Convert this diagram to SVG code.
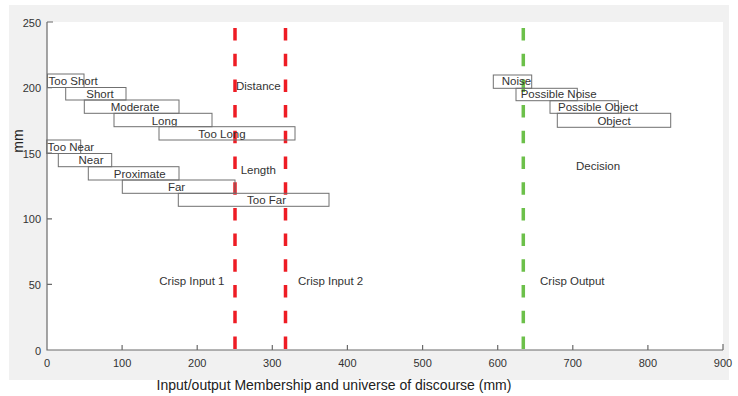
<svg xmlns="http://www.w3.org/2000/svg" width="738" height="396" viewBox="0 0 738 396">
<style>
text{font-family:"Liberation Sans",Arial,sans-serif;fill:#333}
.lb{font-size:11.5px}
.tk{font-size:11px;fill:#444}
.bx{fill:none;stroke:#707070;stroke-width:1}
.ax{stroke:#6a6a6a;stroke-width:1.2;fill:none}
.red{stroke:#ee1c24;stroke-width:3.5;stroke-dasharray:12.5 13.2}
.grn{stroke:#6cc04a;stroke-width:3.5;stroke-dasharray:12.5 13.2}
.m{text-anchor:middle}
.e{text-anchor:end}
</style>
<rect x="0" y="0" width="738" height="396" fill="#ffffff"/>
<rect x="9" y="5" width="720" height="375" fill="#f1f1f1"/>
<rect x="47" y="22" width="676" height="328" fill="#ffffff"/>
<g id="axes">
<path class="ax" d="M47,22 V350 H723"/>
<path class="ax" d="M122.1,350v-5 M197.2,350v-5 M272.3,350v-5 M347.4,350v-5 M422.6,350v-5 M497.7,350v-5 M572.8,350v-5 M647.9,350v-5 M723,350v-6 M47,284.4h5 M47,218.8h5 M47,153.2h5 M47,87.6h5 M47,22h6"/>
<g class="tk">
<text class="m" x="47" y="367">0</text>
<text class="m" x="122.1" y="367">100</text>
<text class="m" x="197.2" y="367">200</text>
<text class="m" x="272.3" y="367">300</text>
<text class="m" x="347.4" y="367">400</text>
<text class="m" x="422.6" y="367">500</text>
<text class="m" x="497.7" y="367">600</text>
<text class="m" x="572.8" y="367">700</text>
<text class="m" x="647.9" y="367">800</text>
<text class="m" x="723" y="367">900</text>
<text class="e" x="41" y="355">0</text>
<text class="e" x="41" y="289">50</text>
<text class="e" x="41" y="223">100</text>
<text class="e" x="41" y="157.5">150</text>
<text class="e" x="41" y="92">200</text>
<text class="e" x="41" y="26.5">250</text>
</g>
<text x="334" y="390" class="m" style="font-size:14px;fill:#222">Input/output Membership and universe of discourse (mm)</text>
<text transform="translate(23,141) rotate(-90)" class="m" style="font-size:14px;fill:#222">mm</text>
</g>
<g id="connectors">
<line class="red" x1="235" y1="28" x2="235" y2="350"/>
<line class="red" x1="285.5" y1="28" x2="285.5" y2="350"/>
<line class="grn" x1="523.3" y1="28" x2="523.3" y2="350"/>
</g>
<g id="too-short"><rect class="bx" x="47.5" y="74" width="36.5" height="13.5"/><text class="lb" x="48.5" y="84.5">Too Short</text></g>
<g id="short"><rect class="bx" x="65.7" y="87.5" width="60.3" height="12.5"/><text class="lb m" x="100" y="97.7">Short</text></g>
<g id="moderate"><rect class="bx" x="84.3" y="100" width="94.7" height="13.3"/><text class="lb m" x="135" y="111.3">Moderate</text></g>
<g id="long"><rect class="bx" x="114" y="113.3" width="98" height="13.4"/><text class="lb m" x="164.5" y="124.5">Long</text></g>
<g id="too-long"><rect class="bx" x="159" y="126.7" width="136" height="13.3"/><text class="lb m" x="222" y="137.8">Too Long</text></g>
<g id="too-near"><rect class="bx" x="46.7" y="140" width="34" height="13.5"/><text class="lb" x="47.5" y="151">Too Near</text></g>
<g id="near"><rect class="bx" x="58.3" y="153.5" width="53.4" height="13.2"/><text class="lb m" x="91" y="164.3">Near</text></g>
<g id="proximate"><rect class="bx" x="88.3" y="166.7" width="90.7" height="13.3"/><text class="lb m" x="139.7" y="177.6">Proximate</text></g>
<g id="far"><rect class="bx" x="122.3" y="180" width="112.7" height="13.3"/><text class="lb m" x="176.5" y="190.8">Far</text></g>
<g id="too-far"><rect class="bx" x="178.3" y="193.3" width="150.7" height="13"/><text class="lb m" x="266.5" y="204">Too Far</text></g>
<g id="noise"><rect class="bx" x="493.3" y="75" width="38.4" height="13.3"/><text class="lb" x="501.7" y="85.3">Noise</text></g>
<g id="possible-noise"><rect class="bx" x="516" y="88.3" width="61.3" height="12.4"/><text class="lb" x="520.7" y="98.3">Possible Noise</text></g>
<g id="possible-object"><rect class="bx" x="550" y="100.7" width="68.3" height="12.6"/><text class="lb" x="558" y="111.3">Possible Object</text></g>
<g id="object"><rect class="bx" x="557.3" y="113.3" width="113.4" height="14"/><text class="lb m" x="614" y="124.8">Object</text></g>
<g id="distance"><text class="lb" x="236" y="90">Distance</text></g>
<g id="length"><text class="lb" x="240.7" y="174">Length</text></g>
<g id="decision"><text class="lb" x="576" y="170">Decision</text></g>
<g id="crisp-input-1"><text class="lb" x="159.3" y="285">Crisp Input 1</text></g>
<g id="crisp-input-2"><text class="lb" x="298" y="285">Crisp Input 2</text></g>
<g id="crisp-output"><text class="lb" x="540" y="285">Crisp Output</text></g>
</svg>
